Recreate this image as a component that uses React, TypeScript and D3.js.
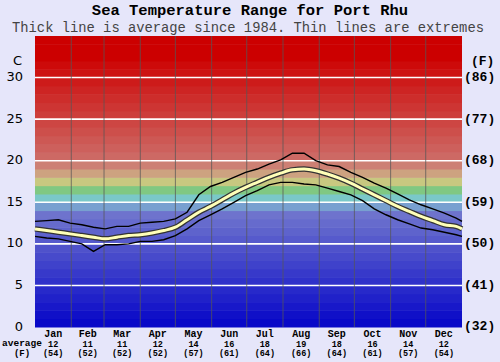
import React from 'react';
import * as d3 from 'd3';

const months = ['Jan', 'Feb', 'Mar', 'Apr', 'May', 'Jun', 'Jul', 'Aug', 'Sep', 'Oct', 'Nov', 'Dec'];
const monthAvgC = [12, 11, 11, 12, 14, 16, 18, 19, 18, 16, 14, 12];
const monthAvgF = [54, 52, 52, 52, 57, 61, 64, 66, 64, 61, 57, 54];
const monthStartDays = [0, 31, 59, 90, 120, 151, 181, 212, 243, 273, 304, 334, 365];
const yTicksC = [0, 5, 10, 15, 20, 25, 30];
const yTicksF = [32, 41, 50, 59, 68, 77, 86];

const sampleDays = [0, 10, 20, 30, 40, 50, 60, 70, 80, 90, 100, 110, 120, 130, 140, 150, 160, 170, 180, 190, 200, 210, 220, 230, 240, 250, 260, 270, 280, 290, 300, 310, 320, 330, 340, 350, 360, 365];
const maxTemps = [12.7, 12.8, 12.9, 12.5, 12.3, 12.0, 11.8, 12.1, 12.1, 12.5, 12.6, 12.7, 13.0, 13.8, 15.9, 16.9, 17.4, 18.0, 18.6, 19.0, 19.6, 20.1, 20.9, 20.9, 20.0, 19.5, 19.3, 18.6, 18.0, 17.3, 16.7, 16.0, 15.3, 14.7, 14.2, 13.7, 13.1, 12.7];
const avgTemps = [11.8, 11.6, 11.4, 11.2, 11.0, 10.8, 10.6, 10.8, 11.0, 11.1, 11.3, 11.6, 12.0, 12.9, 13.8, 14.5, 15.3, 16.1, 16.8, 17.4, 18.0, 18.5, 18.9, 19.0, 18.8, 18.4, 17.9, 17.3, 16.6, 15.9, 15.2, 14.5, 13.9, 13.3, 12.8, 12.3, 12.1, 11.8];
const minTemps = [10.9, 10.7, 10.6, 10.3, 10.0, 9.1, 9.9, 9.9, 10.0, 10.3, 10.3, 10.5, 11.0, 11.8, 12.8, 13.5, 14.2, 15.0, 15.8, 16.4, 17.1, 17.4, 17.4, 17.2, 17.1, 16.7, 16.3, 15.9, 15.2, 14.2, 13.5, 12.9, 12.4, 11.9, 11.7, 11.4, 11.1, 10.9];

const W = 500;
const H = 362;
const left = 35;
const right = 462;
const top = 36;
const bottom = 327;

function bandColor(k: number): string {
  if (k <= 13) {
    const t = k / 13;
    return d3.interpolateRgb('rgb(8,8,200)', 'rgb(110,115,205)')(t);
  }
  const fixed: Record<number, string> = {
    14: 'rgb(120,160,208)',
    15: 'rgb(122,200,200)',
    16: 'rgb(128,200,130)',
    17: 'rgb(200,200,128)',
    18: 'rgb(205,162,128)',
    19: 'rgb(205,128,116)',
  };
  if (fixed[k]) return fixed[k];
  if (k >= 32) return 'rgb(204,0,0)';
  const t = (k - 20) / 11;
  return d3.interpolateRgb('rgb(205,105,100)', 'rgb(205,10,10)')(t);
}

export default function App() {
  const x = d3.scaleLinear().domain([0, 365]).range([left, right]);
  const y = d3.scaleLinear().domain([0, 35]).range([bottom, top]);

  const toPts = (vals: number[]) => sampleDays.map((d, i) => [d, vals[i]] as [number, number]);
  const thin = d3.line<[number, number]>().x(d => x(d[0])).y(d => y(d[1])).curve(d3.curveLinear);
  const thick = d3.line<[number, number]>().x(d => x(d[0])).y(d => y(d[1])).curve(d3.curveMonotoneX);

  const bands = d3.range(0, 35);
  const mono = '"Liberation Mono", "Courier New", monospace';
  const sans = '"DejaVu Sans", Verdana, sans-serif';

  return (
    <svg width={W} height={H} style={{ position: 'absolute', left: 0, top: 0 }}>
      <rect x={0} y={0} width={W} height={H} fill="#e6e6fa" />
      <g>
        {bands.map(k => (
          <rect key={k} x={left} y={y(k + 1)} width={right - left} height={y(k) - y(k + 1) + 0.5} fill={bandColor(k)} />
        ))}
      </g>
      {yTicksC.filter(t => t > 0).map(t => (
        <line key={t} x1={left} x2={right} y1={y(t)} y2={y(t)} stroke="#fff" strokeWidth={1.6} />
      ))}
      {monthStartDays.slice(1, 12).map(d => (
        <line key={d} x1={x(d)} x2={x(d)} y1={top} y2={bottom} stroke="#555" strokeOpacity={0.75} strokeWidth={1} />
      ))}
      <path d={thin(toPts(maxTemps)) || ''} fill="none" stroke="#000" strokeWidth={1.4} />
      <path d={thin(toPts(minTemps)) || ''} fill="none" stroke="#000" strokeWidth={1.4} />
      <path d={thick(toPts(avgTemps)) || ''} fill="none" stroke="#333" strokeWidth={5.5} />
      <path d={thick(toPts(avgTemps)) || ''} fill="none" stroke="#ffffb8" strokeWidth={3} />

      <text x={250} y={15} textAnchor="middle" fontFamily={mono} fontWeight="bold" fontSize={15.5} fill="#000">
        Sea Temperature Range for Port Rhu
      </text>
      <text x={248} y={31.5} textAnchor="middle" fontFamily={mono} fontSize={13.8} fill="#444">
        Thick line is average since 1984. Thin lines are extremes
      </text>

      <text x={22} y={61} textAnchor="end" dominantBaseline="middle" fontFamily={sans} fontSize={13} fill="#000">C</text>
      {yTicksC.map(t => (
        <text key={t} x={23} y={y(t)} textAnchor="end" dominantBaseline="middle" fontFamily={sans} fontSize={13} fill="#000">
          {t}
        </text>
      ))}
      <text x={471} y={62} dominantBaseline="middle" fontFamily={mono} fontWeight="bold" fontSize={13} fill="#000">(F)</text>
      {yTicksF.map((f, i) => (
        <text key={f} x={464} y={y(yTicksC[i])} dominantBaseline="middle" fontFamily={mono} fontWeight="bold" fontSize={13} fill="#000">
          ({f})
        </text>
      ))}

      {months.map((m, i) => {
        const cx = x((monthStartDays[i] + monthStartDays[i + 1]) / 2);
        return (
          <g key={m}>
            <text x={cx} y={337} textAnchor="middle" fontFamily={mono} fontWeight="bold" fontSize={10} fill="#000">{m}</text>
            <text x={cx} y={346.5} textAnchor="middle" fontFamily={mono} fontWeight="bold" fontSize={8.5} fill="#000">{monthAvgC[i]}</text>
            <text x={cx} y={356} textAnchor="middle" fontFamily={mono} fontWeight="bold" fontSize={8.5} fill="#000">({monthAvgF[i]})</text>
          </g>
        );
      })}
      <text x={22} y={346} textAnchor="middle" fontFamily={mono} fontWeight="bold" fontSize={9.5} fill="#000">average</text>
      <text x={22} y={355.5} textAnchor="middle" fontFamily={mono} fontWeight="bold" fontSize={9} fill="#000">(F)</text>
    </svg>
  );
}
